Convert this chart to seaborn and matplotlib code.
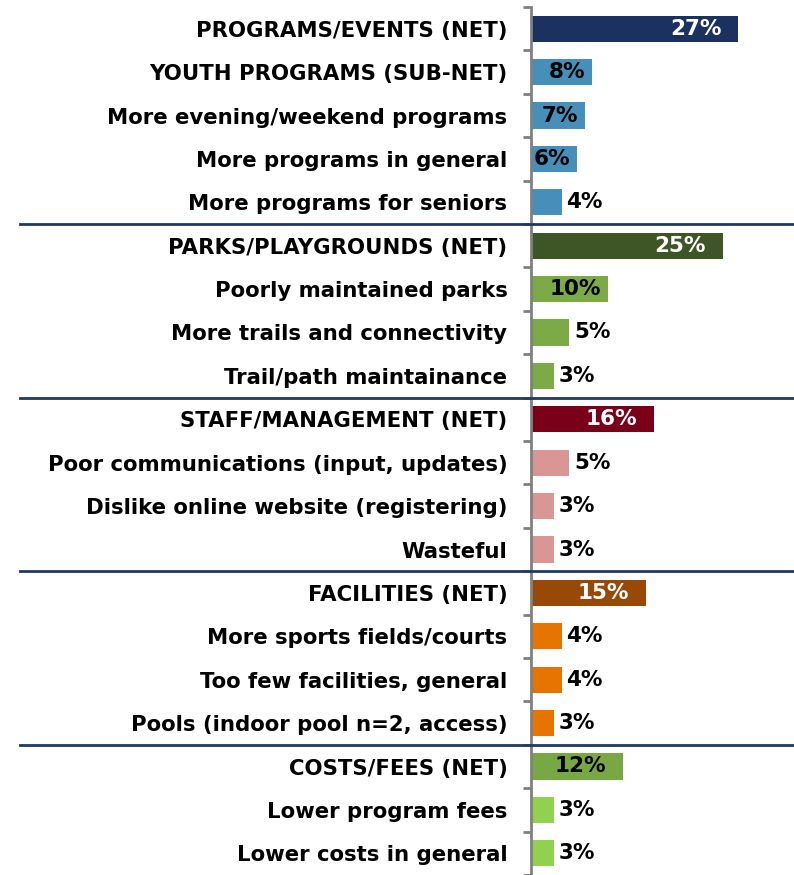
import matplotlib
matplotlib.use("Agg")
import matplotlib.pyplot as plt
import matplotlib.transforms as mtransforms
from matplotlib.lines import Line2D
import seaborn as sns
import pandas as pd

categories = [
    "PROGRAMS/EVENTS (NET)",
    "YOUTH PROGRAMS (SUB-NET)",
    "More evening/weekend programs",
    "More programs in general",
    "More programs for seniors",
    "PARKS/PLAYGROUNDS (NET)",
    "Poorly maintained parks",
    "More trails and connectivity",
    "Trail/path maintainance",
    "STAFF/MANAGEMENT (NET)",
    "Poor communications (input, updates)",
    "Dislike online website (registering)",
    "Wasteful",
    "FACILITIES (NET)",
    "More sports fields/courts",
    "Too few facilities, general",
    "Pools (indoor pool n=2, access)",
    "COSTS/FEES (NET)",
    "Lower program fees",
    "Lower costs in general",
]
values = [27, 8, 7, 6, 4, 25, 10, 5, 3, 16, 5, 3, 3, 15, 4, 4, 3, 12, 3, 3]
is_net = [True, False, False, False, False, True, False, False, False, True,
          False, False, False, True, False, False, False, True, False, False]
colors = [
    "#1B3260", "#468FBB", "#468FBB", "#468FBB", "#468FBB",
    "#3E5626", "#7BAA46", "#7BAA46", "#7BAA46",
    "#7A0019", "#DA9694", "#DA9694", "#DA9694",
    "#984807", "#E87400", "#E87400", "#E87400",
    "#77A844", "#92D050", "#92D050",
]
label_colors = ["white"] * 20
label_colors[17] = "black"
group_breaks = [4.5, 8.5, 12.5, 16.5]

df = pd.DataFrame({"category": categories, "value": values})

W, H = 794, 875
fig = plt.figure(figsize=(W / 100, H / 100), dpi=100)
ax = fig.add_axes([531 / W, 0, 1 - 531 / W, 1 - 7 / H])

sns.barplot(data=df, x="value", y="category", hue="category", palette=colors,
            legend=False, orient="h", width=0.6, saturation=1, ax=ax)

ax.set_xlim(0, 34.3)
ax.set_ylim(19.41, -0.5)
ax.set_xlabel("")
ax.set_ylabel("")
ax.set_xticks([])
for s in ["top", "right", "bottom"]:
    ax.spines[s].set_visible(False)
ax.spines["left"].set_color("#808080")
ax.spines["left"].set_linewidth(2)

ax.set_yticks(range(len(categories)))
ax.set_yticklabels(categories, fontsize=15.3, fontweight="bold")
ax.tick_params(axis="y", which="major", length=0, pad=17)
ax.set_yticks([i - 0.5 for i in range(len(categories) + 1)], minor=True)
ax.tick_params(axis="y", which="minor", length=6, width=2, color="#808080")

FS = 15.5
for i, v in enumerate(values):
    if is_net[i]:
        ax.text(v - 2.2, i, f"{v}%", ha="right", va="center", fontsize=FS,
                fontweight="bold", color=label_colors[i])
    elif v >= 6:
        ax.text(v - 0.9, i, f"{v}%", ha="right", va="center", fontsize=FS,
                fontweight="bold", color="black")
    else:
        ax.text(v + 0.6, i, f"{v}%", ha="left", va="center", fontsize=FS,
                fontweight="bold", color="black")

trans = mtransforms.blended_transform_factory(fig.transFigure, ax.transData)
for b in group_breaks:
    fig.add_artist(Line2D([20 / W, 1], [b, b], transform=trans,
                          color="#1F3864", linewidth=2, clip_on=False))

fig.savefig("out.png", dpi=100)
